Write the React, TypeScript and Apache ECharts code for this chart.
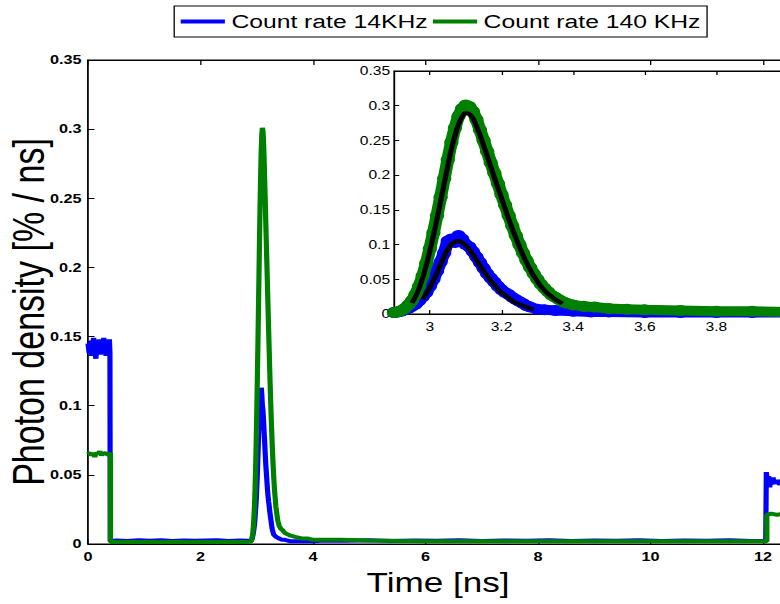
import React, { useEffect, useRef } from "react";
import * as echarts from "echarts";

const S = 1.3; // horizontal stretch of the reference figure
const CW = 620;
const CH = 604;
const FONT = "'Liberation Sans', Arial, Helvetica, sans-serif";

const seriesNames = ["Count rate 14KHz", "Count rate 140 KHz"];
const xTitle = "Time [ns]";
const yTitle = "Photon density [% / ns]";

// main plot: 14 kHz (blue)
const blueStart = [
  [0, 0.145], [0.02, 0.138], [0.04, 0.147], [0.06, 0.136], [0.08, 0.144], [0.1, 0.149],
  [0.12, 0.14], [0.14, 0.134], [0.16, 0.146], [0.18, 0.141], [0.2, 0.148], [0.22, 0.137],
  [0.24, 0.145], [0.26, 0.139], [0.28, 0.149], [0.3, 0.143], [0.32, 0.136], [0.34, 0.147],
  [0.36, 0.141], [0.38, 0.148], [0.39, 0.138], [0.395, 0.002],
];
const blueBase = [
  [0.5, 0.0025], [0.7, 0.0022], [0.9, 0.0028], [1.1, 0.0023], [1.3, 0.0027], [1.5, 0.0022],
  [1.7, 0.0026], [1.9, 0.0023], [2.1, 0.0025], [2.3, 0.0027], [2.5, 0.0022], [2.7, 0.0026], [2.85, 0.0023],
];
const blueTail = [
  [4.2, 0.0026], [4.6, 0.0023], [5.0, 0.0027], [5.4, 0.0022], [5.8, 0.0026], [6.2, 0.0023],
  [6.6, 0.0027], [7.0, 0.0022], [7.4, 0.0026], [7.8, 0.0023], [8.2, 0.0027], [8.6, 0.0022],
  [9.0, 0.0026], [9.4, 0.0023], [9.8, 0.0027], [10.2, 0.0022], [10.6, 0.0026], [11.0, 0.0023],
  [11.4, 0.0027], [11.8, 0.0022], [12.05, 0.0024],
];
const blueEnd = [
  [12.06, 0.052], [12.08, 0.044], [12.1, 0.049], [12.12, 0.041], [12.14, 0.047], [12.16, 0.043],
  [12.18, 0.048], [12.2, 0.044], [12.25, 0.046], [12.3, 0.043], [12.35, 0.047], [12.4, 0.044], [12.5, 0.045],
];

// main plot: 140 kHz (green)
const greenStart = [
  [0, 0.065], [0.03, 0.066], [0.06, 0.064], [0.09, 0.066], [0.12, 0.063], [0.15, 0.066],
  [0.18, 0.065], [0.21, 0.067], [0.24, 0.064], [0.27, 0.066], [0.3, 0.065], [0.33, 0.066],
  [0.36, 0.064], [0.4, 0.066], [0.4, 0.0015],
];
const greenBase = [[0.5, 0.0015], [1.0, 0.0015], [1.5, 0.0015], [2.0, 0.0015], [2.5, 0.0015], [2.85, 0.0015]];
const greenTail = [
  [4.5, 0.003], [5, 0.0025], [6, 0.002], [7, 0.002], [8, 0.002], [9, 0.002], [10, 0.002],
  [11, 0.002], [12.07, 0.002],
];
const greenEnd = [[12.07, 0.021], [12.15, 0.022], [12.25, 0.021], [12.35, 0.022], [12.5, 0.021]];

// peak region (also shown in the inset)
const bluePeak = [
  [2.9, 0.002], [2.91, 0.003], [2.92, 0.004], [2.93, 0.006], [2.94, 0.008], [2.95, 0.011],
  [2.96, 0.014], [2.97, 0.019], [2.98, 0.025], [2.99, 0.031], [3.0, 0.04], [3.01, 0.05],
  [3.02, 0.062], [3.03, 0.075], [3.04, 0.088], [3.05, 0.105], [3.06, 0.108], [3.07, 0.103],
  [3.08, 0.113], [3.09, 0.108], [3.1, 0.1], [3.11, 0.097], [3.12, 0.09], [3.13, 0.082],
  [3.14, 0.074], [3.15, 0.066], [3.16, 0.058], [3.17, 0.052], [3.18, 0.046], [3.19, 0.04],
  [3.2, 0.035], [3.21, 0.031], [3.22, 0.028], [3.23, 0.024], [3.24, 0.021], [3.25, 0.018],
  [3.26, 0.015], [3.27, 0.012], [3.28, 0.01], [3.3, 0.007], [3.32, 0.006], [3.35, 0.005],
  [3.4, 0.004], [3.45, 0.003], [3.5, 0.003], [3.6, 0.002], [3.7, 0.002], [3.8, 0.002],
  [3.9, 0.002], [4.0, 0.002],
];
const greenPeak = [
  [2.9, 0.002], [2.91, 0.003], [2.92, 0.005], [2.93, 0.008], [2.94, 0.013], [2.95, 0.019],
  [2.96, 0.028], [2.97, 0.04], [2.98, 0.055], [2.99, 0.073], [3.0, 0.094], [3.01, 0.117],
  [3.02, 0.142], [3.03, 0.168], [3.04, 0.195], [3.05, 0.222], [3.06, 0.247], [3.07, 0.268],
  [3.08, 0.285], [3.09, 0.296], [3.1, 0.301], [3.11, 0.299], [3.12, 0.292], [3.13, 0.28],
  [3.14, 0.265], [3.15, 0.25], [3.16, 0.234], [3.17, 0.218], [3.18, 0.203], [3.19, 0.188],
  [3.2, 0.172], [3.21, 0.157], [3.22, 0.142], [3.23, 0.127], [3.24, 0.113], [3.25, 0.1],
  [3.26, 0.088], [3.27, 0.077], [3.28, 0.067], [3.29, 0.058], [3.3, 0.05], [3.31, 0.043],
  [3.32, 0.037], [3.33, 0.032], [3.34, 0.027], [3.35, 0.024], [3.36, 0.021], [3.37, 0.018],
  [3.38, 0.016], [3.4, 0.013], [3.43, 0.011], [3.46, 0.01], [3.5, 0.008], [3.55, 0.007],
  [3.6, 0.006], [3.7, 0.005], [3.8, 0.004], [3.9, 0.004], [4.0, 0.003],
];

// fitted curves (black) in the inset
const blueFit = [
  [2.98, 0.021], [2.99, 0.029], [3.0, 0.038], [3.01, 0.048], [3.02, 0.059], [3.03, 0.071],
  [3.04, 0.083], [3.05, 0.093], [3.06, 0.1], [3.07, 0.104], [3.08, 0.105], [3.09, 0.103],
  [3.1, 0.099], [3.11, 0.093], [3.12, 0.086], [3.13, 0.078], [3.14, 0.07], [3.15, 0.062],
  [3.16, 0.055], [3.17, 0.048], [3.18, 0.042], [3.19, 0.036], [3.2, 0.031], [3.21, 0.027],
  [3.22, 0.023], [3.23, 0.019], [3.24, 0.016], [3.25, 0.014], [3.26, 0.012], [3.27, 0.01],
  [3.28, 0.008], [3.29, 0.007],
];
const greenFit = [
  [2.95, 0.016], [2.96, 0.025], [2.97, 0.037], [2.98, 0.052], [2.99, 0.07], [3.0, 0.091],
  [3.01, 0.113], [3.02, 0.137], [3.03, 0.162], [3.04, 0.188], [3.05, 0.213], [3.06, 0.237],
  [3.07, 0.257], [3.08, 0.273], [3.09, 0.284], [3.1, 0.289], [3.11, 0.288], [3.12, 0.282],
  [3.13, 0.271], [3.14, 0.258], [3.15, 0.243], [3.16, 0.228], [3.17, 0.212], [3.18, 0.197],
  [3.19, 0.182], [3.2, 0.167], [3.21, 0.152], [3.22, 0.137], [3.23, 0.123], [3.24, 0.11],
  [3.25, 0.097], [3.26, 0.085], [3.27, 0.074], [3.28, 0.064], [3.29, 0.055], [3.3, 0.047],
  [3.31, 0.04], [3.32, 0.034], [3.33, 0.029], [3.34, 0.025], [3.35, 0.021], [3.36, 0.018],
  [3.37, 0.015],
];

const insetXTicks = [3, 3.2, 3.4, 3.6, 3.8];

const BLUE = "#0000ff";
const GREEN = "#008000";

export default function App() {
  const ref = useRef<HTMLDivElement>(null);
  useEffect(() => {
    const chart = echarts.init(ref.current!, undefined, { renderer: "svg" });
    const mainBlue = [...blueStart, ...blueBase, ...bluePeak, ...blueTail, ...blueEnd];
    const mainGreen = [...greenStart, ...greenBase, ...greenPeak, ...greenTail, ...greenEnd];
    const axisLine = { show: true, lineStyle: { color: "#000", width: 1 } };
    const mainTick = { show: true, inside: true, length: 5, lineStyle: { color: "#000", width: 1 } };
    const insetTick = { show: true, inside: true, length: 4, lineStyle: { color: "#000", width: 1 } };
    const mainLabel = { color: "#000", fontFamily: FONT, fontSize: 12.5, fontWeight: "bold" as const };
    const insetLabel = { color: "#000", fontFamily: FONT, fontSize: 12 };
    chart.setOption({
      animation: false,
      backgroundColor: "#fff",
      legend: {
        data: seriesNames,
        left: 134,
        top: 6,
        padding: [6, 5],
        itemGap: 4,
        itemWidth: 34,
        itemHeight: 4,
        icon: "rect",
        borderColor: "#000",
        borderWidth: 1,
        backgroundColor: "#fff",
        textStyle: { color: "#000", fontFamily: FONT, fontSize: 19 },
      },
      grid: [
        { left: 67.7, top: 60, right: 11.5, bottom: 60, show: true, borderColor: "#000", borderWidth: 1, backgroundColor: "#fff" },
        { left: 303.1, top: 71, right: 13.8, bottom: 290, show: true, borderColor: "#000", borderWidth: 1, backgroundColor: "#fff", z: 5 },
      ],
      xAxis: [
        {
          type: "value", gridIndex: 0, min: 0, max: 12.5, interval: 2, position: "bottom",
          axisLine, axisTick: mainTick, splitLine: { show: false },
          axisLabel: { ...mainLabel, margin: 6, showMaxLabel: false },
        },
        {
          type: "value", gridIndex: 0, min: 0, max: 12.5, interval: 2, position: "top",
          axisLine, axisTick: mainTick, splitLine: { show: false }, axisLabel: { show: false },
        },
        {
          type: "value", gridIndex: 1, min: 2.9, max: 4.0, position: "bottom", z: 6,
          axisLine, axisTick: { ...insetTick, customValues: insetXTicks }, splitLine: { show: false },
          axisLabel: { ...insetLabel, margin: 7, customValues: insetXTicks },
        },
        {
          type: "value", gridIndex: 1, min: 2.9, max: 4.0, position: "top", z: 6,
          axisLine, axisTick: { ...insetTick, customValues: insetXTicks }, splitLine: { show: false },
          axisLabel: { show: false },
        },
      ],
      yAxis: [
        {
          type: "value", gridIndex: 0, min: 0, max: 0.35, interval: 0.05,
          axisLine, axisTick: mainTick, splitLine: { show: false },
          axisLabel: { ...mainLabel, margin: 5 },
        },
        {
          type: "value", gridIndex: 1, min: 0, max: 0.35, interval: 0.05, z: 6,
          axisLine, axisTick: insetTick, splitLine: { show: false },
          axisLabel: { ...insetLabel, margin: 3 },
        },
      ],
      series: [
        {
          name: seriesNames[0], type: "line", xAxisIndex: 0, yAxisIndex: 0, data: mainBlue,
          showSymbol: false, color: BLUE, lineStyle: { color: BLUE, width: 4 }, z: 2,
        },
        {
          name: seriesNames[1], type: "line", xAxisIndex: 0, yAxisIndex: 0, data: mainGreen,
          showSymbol: false, color: GREEN, lineStyle: { color: GREEN, width: 4 }, z: 3,
        },
        {
          name: "inset 14KHz", type: "line", xAxisIndex: 2, yAxisIndex: 1, data: bluePeak,
          showSymbol: true, showAllSymbol: true, symbol: "circle", symbolSize: 11,
          itemStyle: { color: BLUE }, lineStyle: { color: BLUE, width: 10, cap: "round", join: "round" }, z: 7,
        },
        {
          name: "inset 140 KHz", type: "line", xAxisIndex: 2, yAxisIndex: 1, data: greenPeak,
          showSymbol: true, showAllSymbol: true, symbol: "circle", symbolSize: 11,
          itemStyle: { color: GREEN }, lineStyle: { color: GREEN, width: 10, cap: "round", join: "round" }, z: 8,
        },
        {
          name: "fit 14KHz", type: "line", xAxisIndex: 2, yAxisIndex: 1, data: blueFit,
          showSymbol: false, smooth: true, lineStyle: { color: "#000", width: 4 }, z: 9,
        },
        {
          name: "fit 140 KHz", type: "line", xAxisIndex: 2, yAxisIndex: 1, data: greenFit,
          showSymbol: false, smooth: true, lineStyle: { color: "#000", width: 4 }, z: 9,
        },
      ],
      graphic: [
        {
          type: "text", x: 21.5, y: 312, rotation: Math.PI / 2,
          style: { text: yTitle, font: `34px ${FONT}`, fill: "#000", textAlign: "center", textVerticalAlign: "middle" },
        },
        {
          type: "text", x: 337, y: 583,
          style: { text: xTitle, font: `27px ${FONT}`, fill: "#000", textAlign: "center", textVerticalAlign: "middle" },
        },
      ],
    });
    return () => chart.dispose();
  }, []);
  return (
    <div
      ref={ref}
      style={{
        position: "fixed", left: 0, top: 0, width: CW, height: CH,
        transform: `scaleX(${S})`, transformOrigin: "0 0", background: "#fff",
      }}
    />
  );
}
